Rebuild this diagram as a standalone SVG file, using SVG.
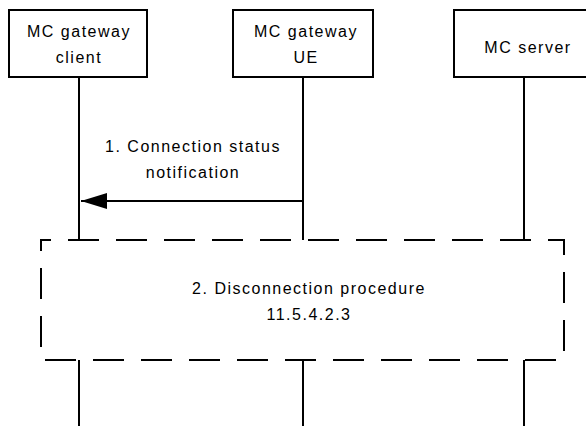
<svg xmlns="http://www.w3.org/2000/svg" width="586" height="426" viewBox="0 0 586 426">
<style>
.box{fill:#fff;stroke:#000;stroke-width:2}
.life{stroke:#000;stroke-width:2;fill:none}
.t{font-family:"Liberation Sans","Open Sans",Arial,sans-serif;font-size:16px;fill:#000;text-anchor:middle;letter-spacing:1.5px}
.dash{fill:none;stroke:#000;stroke-width:2;stroke-dasharray:31 17;stroke-dashoffset:21}
</style>
<defs>
<marker id="ah" markerWidth="26" markerHeight="16" refX="26" refY="8" orient="auto" markerUnits="userSpaceOnUse">
<path d="M0,0 L26,8 L0,16 Z" fill="#000"/>
</marker>
</defs>
<g id="connectors">
<line class="life" x1="79" y1="77" x2="79" y2="240"/>
<line class="life" x1="303" y1="77" x2="303" y2="240"/>
<line class="life" x1="524" y1="77" x2="524" y2="240"/>
<line class="life" x1="79" y1="360" x2="79" y2="426"/>
<line class="life" x1="303" y1="360" x2="303" y2="426"/>
<line class="life" x1="524" y1="360" x2="524" y2="426"/>
<line class="life" x1="303" y1="201" x2="81" y2="201" marker-end="url(#ah)"/>
<text class="t" x="193" y="152">1. Connection status</text>
<text class="t" x="193" y="178">notification</text>
</g>
<g id="client">
<rect class="box" x="9" y="10" width="138" height="67"/>
<text class="t" x="79" y="37">MC gateway</text>
<text class="t" x="79" y="63">client</text>
</g>
<g id="ue">
<rect class="box" x="233" y="10" width="140" height="67"/>
<text class="t" x="306" y="37">MC gateway</text>
<text class="t" x="306" y="63">UE</text>
</g>
<g id="server">
<rect class="box" x="454" y="10" width="140" height="67"/>
<text class="t" x="528" y="53">MC server</text>
</g>
<g id="procedure">
<path class="dash" d="M41,240 H564 V360 H41 Z"/>
<text class="t" x="309" y="294">2. Disconnection procedure</text>
<text class="t" x="309" y="320">11.5.4.2.3</text>
</g>
</svg>
